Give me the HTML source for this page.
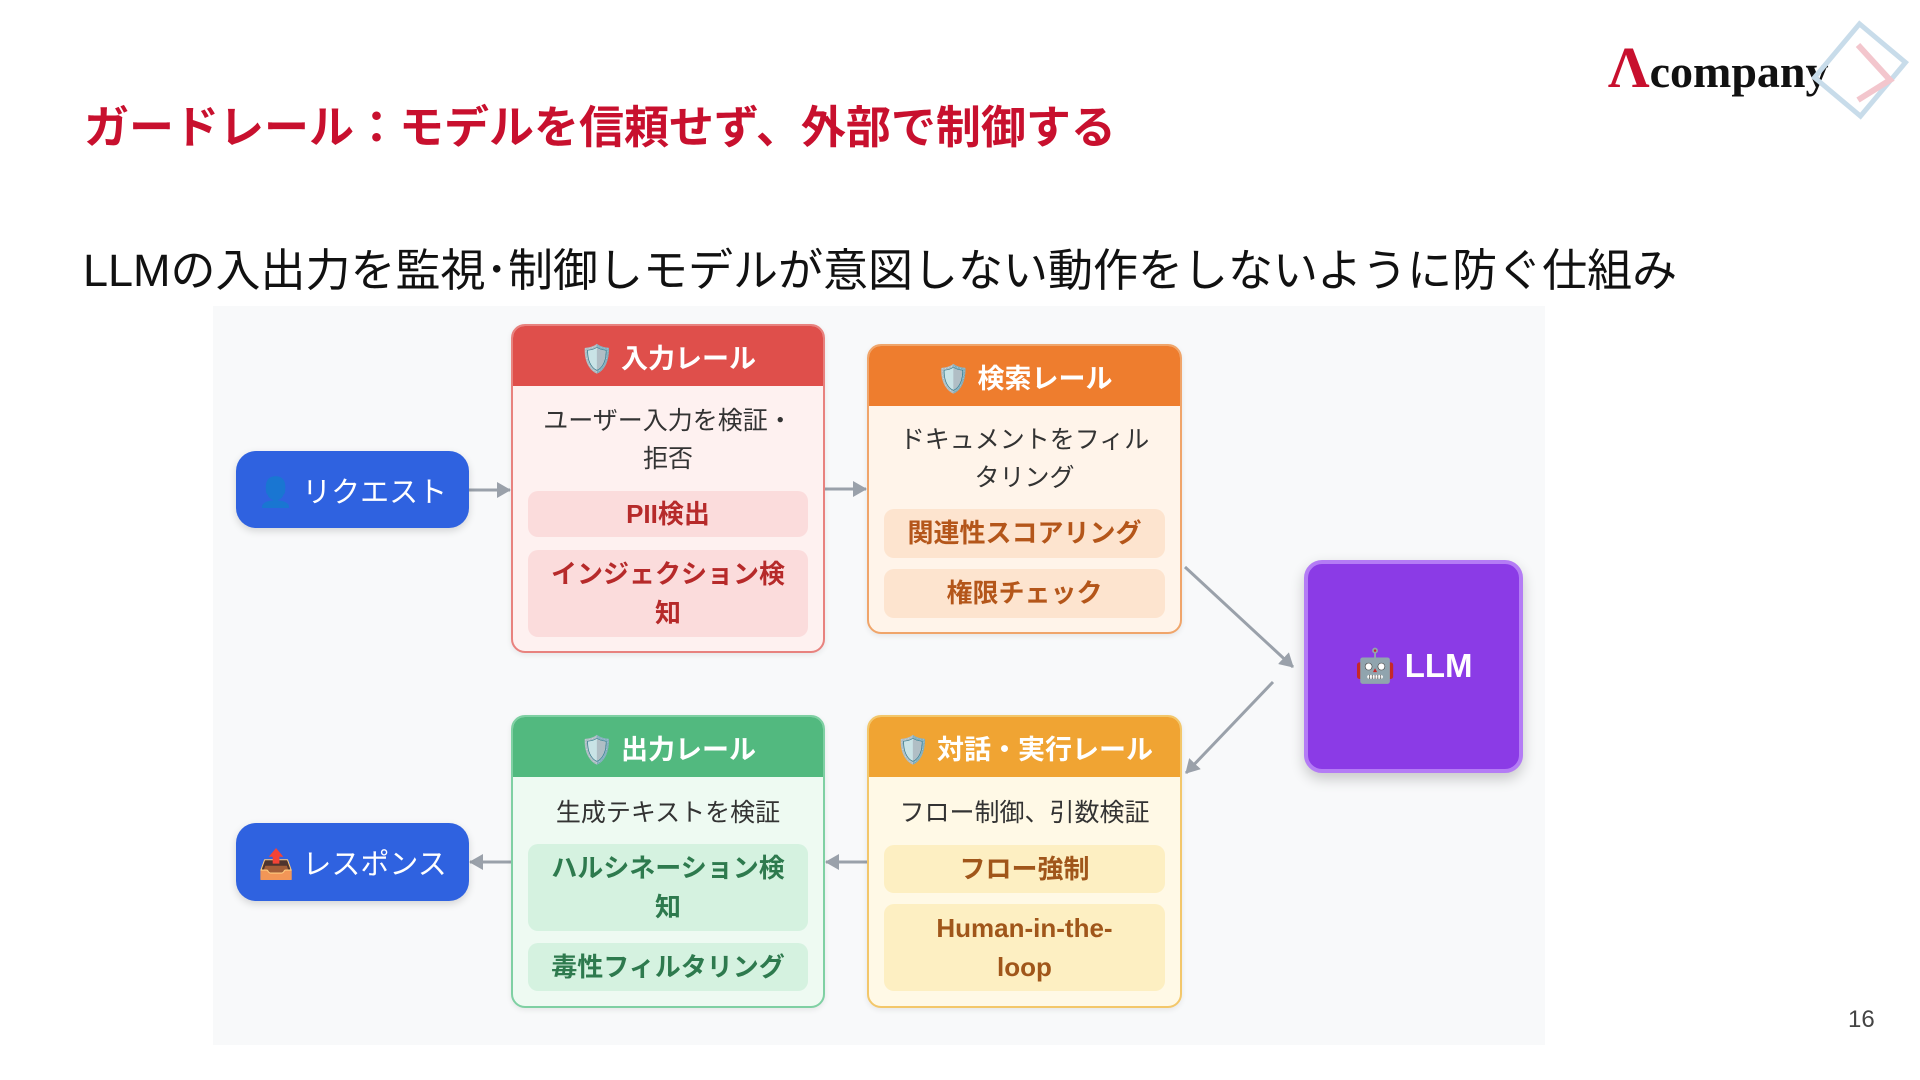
<!DOCTYPE html>
<html><head><meta charset="utf-8"><style>
*{margin:0;padding:0;box-sizing:border-box}
body{width:1920px;height:1080px;background:#fff;position:relative;overflow:hidden;font-family:"Liberation Sans","Noto Sans CJK JP",sans-serif}
.a{position:absolute}
.title{left:84px;top:91px;font-size:45px;font-weight:bold;color:#c8102e;white-space:nowrap}
.sub{left:83px;top:234px;font-size:45px;color:#111;white-space:nowrap}
.bg{left:213px;top:306px;width:1332px;height:739px;background:#f8f9fa}
.pill{border-radius:20px;color:#fff;font-size:29px;display:flex;align-items:center;justify-content:center;background:#2f62e0;box-shadow:0 3px 8px rgba(0,0,0,.15)}
.rail{border-radius:14px;border:2px solid;overflow:hidden;box-shadow:0 2px 6px rgba(0,0,0,.08)}
.hd{height:60px;color:#fff;font-size:27px;font-weight:bold;display:flex;align-items:center;justify-content:center}
.tx{font-size:25px;color:#333;text-align:center;line-height:38px}
.it{position:absolute;left:15px;right:15px;border-radius:10px;font-size:26px;display:flex;align-items:center;justify-content:center;text-align:center;line-height:39px;font-weight:bold}
</style></head><body>
<div class="a title">ガードレール：モデルを信頼せず、外部で制御する</div>
<div class="a sub">LLMの入出力を監視･制御しモデルが意図しない動作をしないように防ぐ仕組み</div>
<div class="a" style="left:1608px;top:34px;font-family:'Liberation Serif',serif;font-size:46px;font-weight:bold;color:#111;white-space:nowrap"><span style="color:#c8102e;font-size:58px">Λ</span>company</div>
<svg class="a" style="left:1800px;top:5px" width="120" height="130"><rect x="30" y="30" width="60" height="70" fill="none" stroke="#c8dcea" stroke-width="5" transform="rotate(40 60 65)"/><path d="M58 40 L90 75 L58 95" fill="none" stroke="#f3c6cd" stroke-width="6"/></svg>
<div class="a" style="left:1848px;top:1006px;font-size:24px;color:#444">16</div>
<div class="a bg"></div>
<svg class="a" style="left:0;top:0" width="1920" height="1080">
<defs><marker id="m" markerUnits="userSpaceOnUse" markerWidth="14" markerHeight="16" refX="13" refY="8" orient="auto"><path d="M0,0 L14,8 L0,16z" fill="#9aa1aa"/></marker></defs>
<g stroke="#9aa1aa" stroke-width="3" fill="none" marker-end="url(#m)">
<line x1="469" y1="490" x2="510" y2="490"/>
<line x1="825" y1="489" x2="866" y2="489"/>
<line x1="1185" y1="567" x2="1293" y2="667"/>
<line x1="1273" y1="682" x2="1186" y2="773"/>
<line x1="867" y1="862" x2="826" y2="862"/>
<line x1="511" y1="862" x2="470" y2="862"/>
</g></svg>
<div class="a pill" style="left:236px;top:451px;width:233px;height:77px">👤 リクエスト</div>
<div class="a pill" style="left:236px;top:823px;width:233px;height:78px">📤 レスポンス</div>
<div class="a" style="left:1304px;top:560px;width:219px;height:213px;background:#8b3be6;border:4px solid #b47cf5;border-radius:18px;color:#fff;font-size:33px;font-weight:bold;display:flex;align-items:center;justify-content:center;box-shadow:0 6px 14px rgba(0,0,0,.2)">🤖 LLM</div>

<div class="a rail" style="left:511px;top:324px;width:314px;height:329px;border-color:#e8827e;background:#fef1f0">
<div class="hd" style="background:#df4f4b">🛡️ 入力レール</div>
<div class="a tx" style="left:0;right:0;top:76px">ユーザー入力を検証・<br>拒否</div>
<div class="it" style="top:165px;height:46px;background:#fbdcdc;color:#b62a2a">PII検出</div>
<div class="it" style="top:224px;height:87px;background:#fbdcdc;color:#b62a2a">インジェクション検<br>知</div>
</div>
<div class="a rail" style="left:867px;top:344px;width:315px;height:290px;border-color:#f0a56a;background:#fff4ea">
<div class="hd" style="background:#ee7d2e">🛡️ 検索レール</div>
<div class="a tx" style="left:0;right:0;top:75px">ドキュメントをフィル<br>タリング</div>
<div class="it" style="top:163px;height:49px;background:#fde4cf;color:#b4561a">関連性スコアリング</div>
<div class="it" style="top:223px;height:49px;background:#fde4cf;color:#b4561a">権限チェック</div>
</div>
<div class="a rail" style="left:511px;top:715px;width:314px;height:293px;border-color:#7fd0a3;background:#eefaf2">
<div class="hd" style="background:#52b97f">🛡️ 出力レール</div>
<div class="a tx" style="left:0;right:0;top:77px">生成テキストを検証</div>
<div class="it" style="top:127px;height:87px;background:#d5f2e0;color:#2e7a4e">ハルシネーション検<br>知</div>
<div class="it" style="top:226px;height:48px;background:#d5f2e0;color:#2e7a4e">毒性フィルタリング</div>
</div>
<div class="a rail" style="left:867px;top:715px;width:315px;height:293px;border-color:#f3c76a;background:#fff9e6">
<div class="hd" style="background:#f0a433">🛡️ 対話・実行レール</div>
<div class="a tx" style="left:0;right:0;top:77px">フロー制御、引数検証</div>
<div class="it" style="top:128px;height:48px;background:#fdefc2;color:#a0561a">フロー強制</div>
<div class="it" style="top:187px;height:87px;background:#fdefc2;color:#a0561a">Human-in-the-<br>loop</div>
</div>
</body></html>
